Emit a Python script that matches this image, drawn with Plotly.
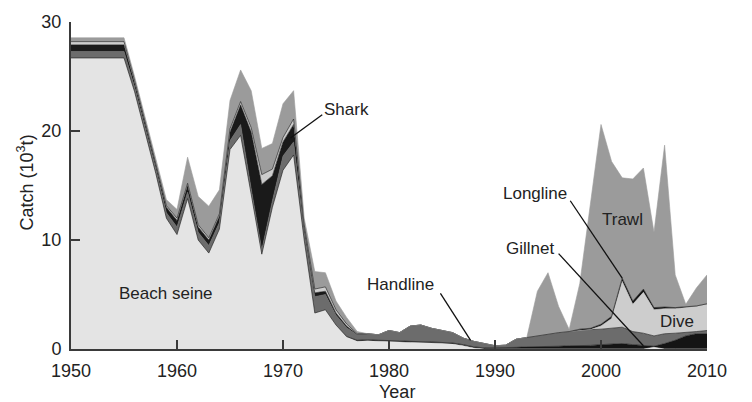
import numpy as np
import plotly.graph_objects as go

# Annual catch by gear type, thousand tonnes (stacked bottom to top)
years = list(range(1950, 2011))

beach_seine = [26.7, 26.7, 26.7, 26.7, 26.7, 26.7, 23.6, 19.9, 16.1, 12.0,
               10.5, 13.8, 10.0, 8.8, 11.0, 18.3, 19.6, 14.2, 8.7, 13.0,
               16.4, 17.8, 10.0, 3.3, 3.6, 2.2, 1.1, 0.7, 0.75, 0.7,
               0.7, 0.65, 0.6, 0.6, 0.55, 0.5, 0.45, 0.3, 0.1, 0.0,
               0.0, 0.0, 0.0, 0.0, 0.0, 0.0, 0.0, 0.0, 0.0, 0.0,
               0.0, 0.0, 0.0, 0.0, 0.0, 0.15, 0.0, 0.0, 0.0, 0.0, 0.0]

gillnet = [0.0] * 26 + [0.05, 0.1, 0.1, 0.1,
           0.1, 0.1, 0.1, 0.1, 0.1, 0.1, 0.1, 0.1, 0.1, 0.1,
           0.1, 0.1, 0.15, 0.2, 0.2, 0.25, 0.25, 0.3, 0.3, 0.33,
           0.4, 0.45, 0.5, 0.4, 0.3, 0.1, 0.5, 0.8, 1.2, 1.4, 1.4]

handline = [0.6, 0.6, 0.6, 0.6, 0.6, 0.6, 0.45, 0.45, 0.45, 0.5,
            0.7, 0.6, 0.7, 0.7, 0.6, 0.8, 1.0, 0.5, 0.4, 0.6,
            1.3, 1.2, 0.8, 1.5, 1.4, 0.9, 0.8, 0.5, 0.55, 0.5,
            0.9, 0.75, 1.4, 1.5, 1.25, 1.1, 0.95, 0.6, 0.5, 0.4,
            0.2, 0.25, 0.75, 0.85, 1.0, 1.15, 1.25, 1.3, 1.4, 1.45,
            1.42, 1.45, 1.5, 1.2, 1.15, 0.95, 0.9, 0.65, 0.3, 0.2, 0.3]

shark = [0.6, 0.6, 0.6, 0.6, 0.6, 0.6, 0.4, 0.4, 0.4, 0.5,
         0.6, 0.6, 0.5, 0.5, 0.6, 0.8, 1.8, 5.2, 6.0, 2.3,
         1.3, 1.6, 0.4, 0.35, 0.3, 0.2, 0.15, 0.05] + [0.0] * 33

dive = [0.3, 0.3, 0.3, 0.3, 0.3, 0.3, 0.2, 0.15, 0.15, 0.15,
        0.2, 0.2, 0.2, 0.2, 0.2, 0.3, 0.3, 0.4, 0.9, 0.6,
        0.4, 0.5, 0.2, 0.35, 0.4, 0.3, 0.2, 0.05] + [0.0] * 22 + \
       [0.3, 0.9, 4.2, 2.5, 3.75, 2.4, 2.3, 2.25, 2.3, 2.3, 2.4]

longline = [0.0] * 48 + [0.12, 0.12,
            0.15, 0.2, 0.3, 0.3, 0.3, 0.2, 0.15, 0.1, 0.05, 0.05, 0.05]

trawl = [0.35, 0.35, 0.35, 0.35, 0.35, 0.35, 0.35, 0.4, 0.4, 0.55,
         0.8, 2.4, 2.6, 2.9, 2.2, 2.6, 2.9, 3.4, 2.4, 2.35,
         3.1, 2.6, 0.6, 1.6, 1.3, 0.8, 0.6, 0.2, 0.0, 0.0,
         0.0, 0.0, 0.0, 0.0, 0.0, 0.0, 0.0, 0.0, 0.0, 0.0,
         0.0, 0.0, 0.0, 0.0, 4.1, 5.6, 2.4, 0.2, 4.2, 11.4,
         18.33, 14.2, 9.2, 11.2, 11.1, 6.9, 14.85, 3.0, 0.25, 1.65, 2.65]

series = [
    ("Beach seine", beach_seine, "#e4e4e4"),
    ("Gillnet", gillnet, "#141414"),
    ("Handline", handline, "#6c6c6c"),
    ("Shark", shark, "#1a1a1a"),
    ("Dive", dive, "#cdcdcd"),
    ("Longline", longline, "#141414"),
    ("Trawl", trawl, "#9b9b9b"),
]

FONT = "Liberation Sans, Arial, sans-serif"
INK = "#222222"
AXIS = "#3a3a3a"

fig = go.Figure()
for name, vals, col in series:
    fig.add_trace(go.Scatter(
        x=years, y=vals, name=name, mode="lines", stackgroup="catch",
        line=dict(width=0.6, color=col), fillcolor=col, hoverinfo="skip",
    ))

# cumulative tops for placing leader-line ends on the layers
yrs = np.array(years, dtype=float)
cum = np.cumsum(np.array([s[1] for s in series], dtype=float), axis=0)
top = {s[0]: cum[i] for i, s in enumerate(series)}
base = {s[0]: (cum[i - 1] if i > 0 else np.zeros_like(yrs)) for i, s in enumerate(series)}


def at(arr, yr):
    return float(np.interp(yr, yrs, arr))


leaders = [
    # (text, text x, text y, line start x, line start y, end x, end y)
    ("Shark", 1976.0, 22.0, 1973.7, 21.5, 1970.7,
     0.5 * (at(top["Shark"], 1970.7) + at(base["Shark"], 1970.7))),
    ("Handline", 1981.1, 5.9, 1984.85, 5.1, 1987.7, at(top["Handline"], 1987.7)),
    ("Longline", 1993.75, 14.25, 1997.1, 13.6, 2002.0, at(top["Longline"], 2002.0)),
    ("Gillnet", 1993.3, 9.2, 1996.0, 8.75, 2004.0, at(top["Gillnet"], 2004.0)),
]

annotations = []
shapes = []
for text, tx, ty, x0, y0, x1, y1 in leaders:
    annotations.append(dict(x=tx, y=ty, xref="x", yref="y", text=text,
                            showarrow=False, font=dict(size=17, color=INK)))
    shapes.append(dict(type="line", xref="x", yref="y", x0=x0, y0=y0, x1=x1, y1=y1,
                       line=dict(color="#111111", width=1.3)))

for text, tx, ty in [("Beach seine", 1959.0, 5.1), ("Trawl", 2002.05, 11.9),
                     ("Dive", 2007.2, 2.5)]:
    annotations.append(dict(x=tx, y=ty, xref="x", yref="y", text=text,
                            showarrow=False, font=dict(size=17, color=INK)))

annotations.append(dict(x=-0.072, y=0.51, xref="paper", yref="paper",
                        xanchor="center", yanchor="middle",
                        text="Catch (10<sup>3</sup>t)", textangle=-90, showarrow=False,
                        font=dict(size=18, color=INK)))
annotations.append(dict(x=0.512, y=-0.13, xref="paper", yref="paper",
                        xanchor="center", yanchor="middle",
                        text="Year", showarrow=False,
                        font=dict(size=18, color=INK)))

fig.update_layout(
    width=752, height=402,
    margin=dict(l=71, r=45, t=17, b=53),
    paper_bgcolor="white", plot_bgcolor="white",
    showlegend=False,
    font=dict(family=FONT, size=18, color=INK),
    annotations=annotations,
    shapes=shapes,
)
fig.update_xaxes(
    range=[1950, 2010], tickvals=list(range(1950, 2011, 10)),
    ticks="inside", ticklen=9, tickwidth=2, tickcolor=AXIS,
    showline=True, linecolor=AXIS, linewidth=2, mirror=False,
    showgrid=False, zeroline=False, ticklabelstandoff=4,
    tickfont=dict(size=18, color=INK),
)
fig.update_yaxes(
    range=[0, 30], tickvals=[0, 10, 20, 30],
    ticks="inside", ticklen=9, tickwidth=2, tickcolor=AXIS,
    showline=True, linecolor=AXIS, linewidth=2,
    showgrid=False, zeroline=False, ticklabelstandoff=4,
    tickfont=dict(size=18, color=INK),
)

fig.write_html("out.html")
